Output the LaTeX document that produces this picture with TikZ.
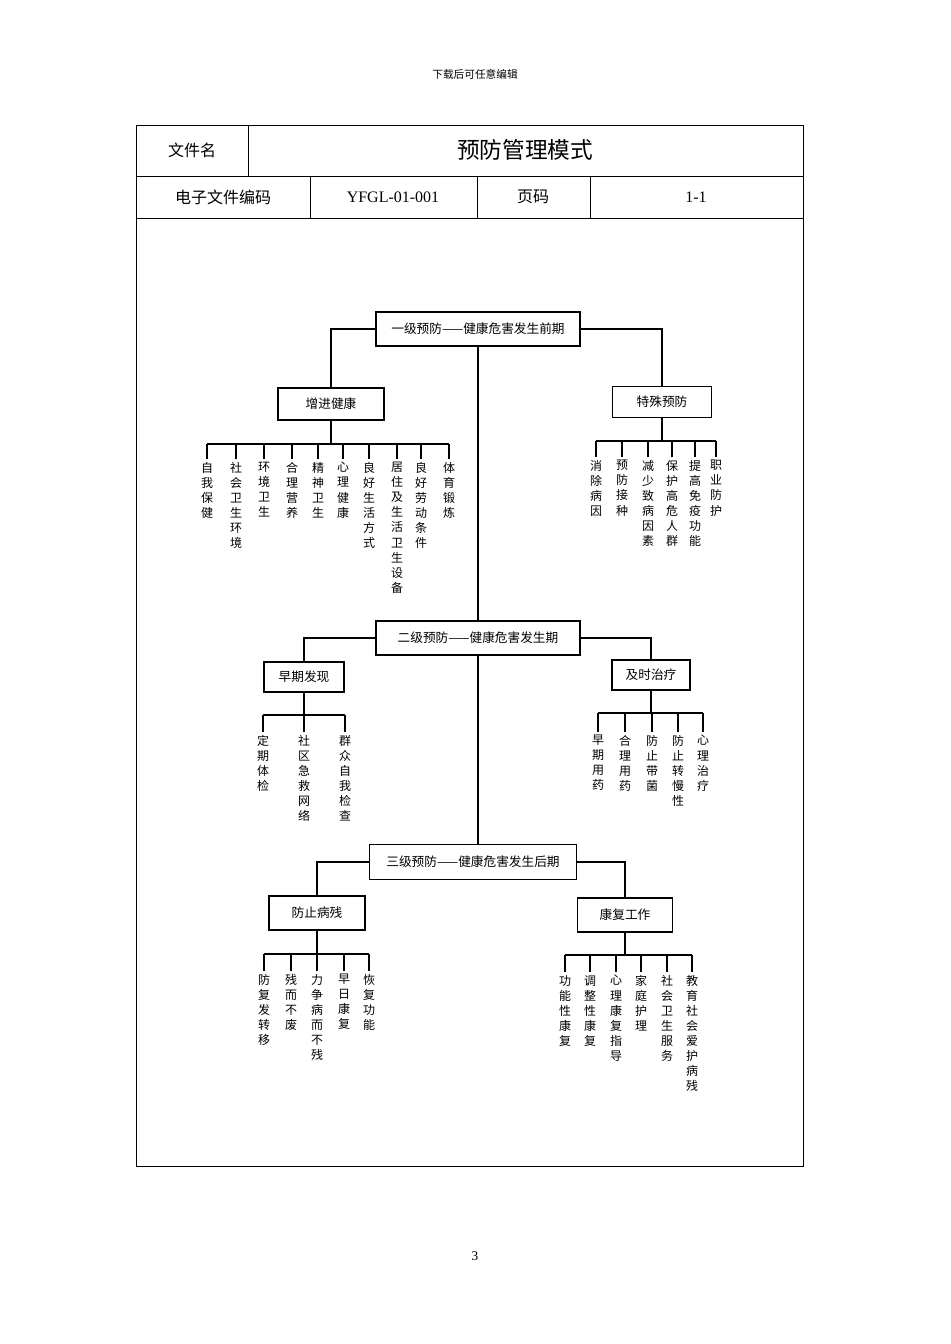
\documentclass[tikz,border=0pt]{standalone}
\usepackage{fontspec}
\setmainfont{Liberation Serif}
\newfontfamily\cjk{Noto Sans CJK SC}
\tikzset{
 bx/.style={draw,line width=0.9pt,minimum height=#1,inner sep=0pt,font=\cjk\fontsize{9.5}{11}\selectfont},
 vt/.style={anchor=north,align=center,inner sep=0pt,font=\cjk\fontsize{9}{11.3}\selectfont},
 ln/.style={line width=0.9pt},
 tb/.style={line width=0.6pt}
}
\newcommand{\grp}[5]{% name, box, busy, texty, list
 \foreach \xx/\tx [count=\n, remember=\xx as \px (initially 0)] in {#5}{
   \node[vt] (#1c\n) at (\xx,#4) {\tx};
   \draw[ln] (\xx,#4-3) -- (\xx,#3);
   \ifnum\n>1 \draw[ln] (\px,#3) -- (\xx,#3);\fi
 }
}
\begin{document}
\begin{tikzpicture}[x=0.75pt,y=-0.75pt]
\fill[white] (0,0) rectangle (950,1344);
\useasboundingbox (0,0) rectangle (950,1344);
\node[font=\cjk\fontsize{8}{9}\selectfont] (hd) at (475,74) {下载后可任意编辑};
\node[font=\fontsize{10}{12}\selectfont] (pg) at (475,1256) {3};
% table
\draw[tb] (136,125) rectangle (803,1166);
\draw[tb] (136,176) -- (803,176) (136,218) -- (803,218);
\draw[tb] (248,125) -- (248,176);
\draw[tb] (310,176) -- (310,218) (477,176) -- (477,218) (590,176) -- (590,218);
\node[font=\cjk\fontsize{12}{14}\selectfont] (t1) at (192,150) {文件名};
\node[font=\cjk\fontsize{17}{20}\selectfont] (t2) at (525,150) {预防管理模式};
\node[font=\cjk\fontsize{12}{14}\selectfont] (t3) at (223,197) {电子文件编码};
\node[font=\fontsize{12}{14}\selectfont] (t4) at (393,197) {YFGL-01-001};
\node[font=\cjk\fontsize{12}{14}\selectfont] (t5) at (533,197) {页码};
\node[font=\fontsize{12}{14}\selectfont] (t6) at (696,197) {1-1};
% level boxes
\node[bx=25.5pt,minimum width=153pt] (L1) at (478,329) {一级预防——健康危害发生前期};
\node[bx=25.5pt,minimum width=153pt] (L2) at (478,638) {二级预防——健康危害发生期};
\node[bx=26pt,minimum width=155pt] (L3) at (473,862) {三级预防——健康危害发生后期};
\draw[ln] (L1.south) -- (L1.south |- L2.north);
\draw[ln] (L2.south) -- (L2.south |- L3.north);
% sub boxes
\node[bx=24pt,minimum width=79.5pt] (A) at (331,404) {增进健康};
\node[bx=23pt,minimum width=74pt] (B) at (662,402) {特殊预防};
\node[bx=22.5pt,minimum width=60pt] (C) at (304,677) {早期发现};
\node[bx=22.5pt,minimum width=58.5pt] (D) at (651,675) {及时治疗};
\node[bx=25.5pt,minimum width=72pt] (E) at (317,913) {防止病残};
\node[bx=25.5pt,minimum width=71pt] (F) at (625,915) {康复工作};
\draw[ln] (L1.west) -| (A.north);
\draw[ln] (L1.east) -| (B.north);
\draw[ln] (L2.west) -| (C.north);
\draw[ln] (L2.east) -| (D.north);
\draw[ln] (L3.west) -| (E.north);
\draw[ln] (L3.east) -| (F.north);
% children
\draw[ln] (A.south) -- (A.south |- 0,444);
\grp{a}{A}{444}{462}{207/自\\我\\保\\健,236/社\\会\\卫\\生\\环\\境,264/环\\境\\卫\\生,292/合\\理\\营\\养,318/精\\神\\卫\\生,343/心\\理\\健\\康,369/良\\好\\生\\活\\方\\式,397/居\\住\\及\\生\\活\\卫\\生\\设\\备,421/良\\好\\劳\\动\\条\\件,449/体\\育\\锻\\炼}
\draw[ln] (B.south) -- (B.south |- 0,441);
\grp{b}{B}{441}{460}{596/消\\除\\病\\因,622/预\\防\\接\\种,648/减\\少\\致\\病\\因\\素,672/保\\护\\高\\危\\人\\群,695/提\\高\\免\\疫\\功\\能,716/职\\业\\防\\护}
\draw[ln] (C.south) -- (C.south |- 0,715);
\grp{c}{C}{715}{735}{263/定\\期\\体\\检,304/社\\区\\急\\救\\网\\络,345/群\\众\\自\\我\\检\\查}
\draw[ln] (D.south) -- (D.south |- 0,713);
\grp{d}{D}{713}{735}{598/早\\期\\用\\药,625/合\\理\\用\\药,652/防\\止\\带\\菌,678/防\\止\\转\\慢\\性,703/心\\理\\治\\疗}
\draw[ln] (E.south) -- (E.south |- 0,954);
\grp{e}{E}{954}{974}{264/防\\复\\发\\转\\移,291/残\\而\\不\\废,317/力\\争\\病\\而\\不\\残,344/早\\日\\康\\复,369/恢\\复\\功\\能}
\draw[ln] (F.south) -- (F.south |- 0,955);
\grp{f}{F}{955}{975}{565/功\\能\\性\\康\\复,590/调\\整\\性\\康\\复,616/心\\理\\康\\复\\指\\导,641/家\\庭\\护\\理,667/社\\会\\卫\\生\\服\\务,692/教\\育\\社\\会\\爱\\护\\病\\残}
\end{tikzpicture}
\end{document}
